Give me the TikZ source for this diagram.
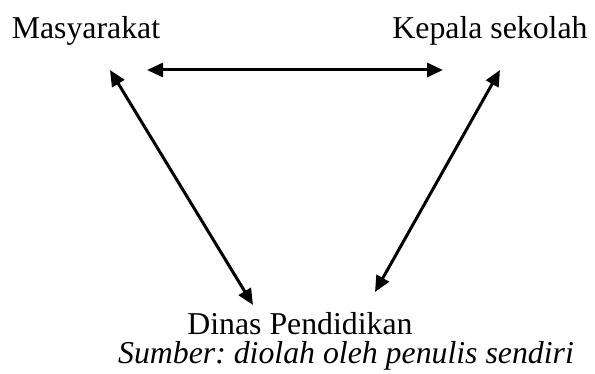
\documentclass[tikz,border=0pt]{standalone}
\usepackage{fontspec}
\setmainfont{Liberation Serif}
\usetikzlibrary{arrows.meta}
\begin{document}
\frenchspacing
\begin{tikzpicture}[x=1pt,y=-1pt,
  label/.style={inner sep=0pt,anchor=base,font=\fontsize{31.8}{36}\selectfont},
  link/.style={line width=3pt,{Triangle[length=16pt,width=14pt]}-{Triangle[length=16pt,width=14pt]}}]
  \useasboundingbox (0,0) rectangle (595,374);
  % actors
  \node[label] (mas) at (86,39) {Masyarakat};
  \node[label] (kep) at (490,39) {Kepala sekolah};
  \node[label] (din) at (300,335) {Dinas Pendidikan};
  \node[label] (src) at (346,363) {\itshape Sumber: diolah oleh penulis sendiri};
  % arrow end points
  \coordinate (masR) at (147,70);
  \coordinate (kepL) at (443,70);
  \coordinate (masB) at (110,70);
  \coordinate (dinL) at (253,305);
  \coordinate (kepB) at (500,70);
  \coordinate (dinR) at (375,292);
  % relations
  \draw[link] (masR) -- (kepL);
  \draw[link] (masB) -- (dinL);
  \draw[link] (kepB) -- (dinR);
\end{tikzpicture}
\end{document}
